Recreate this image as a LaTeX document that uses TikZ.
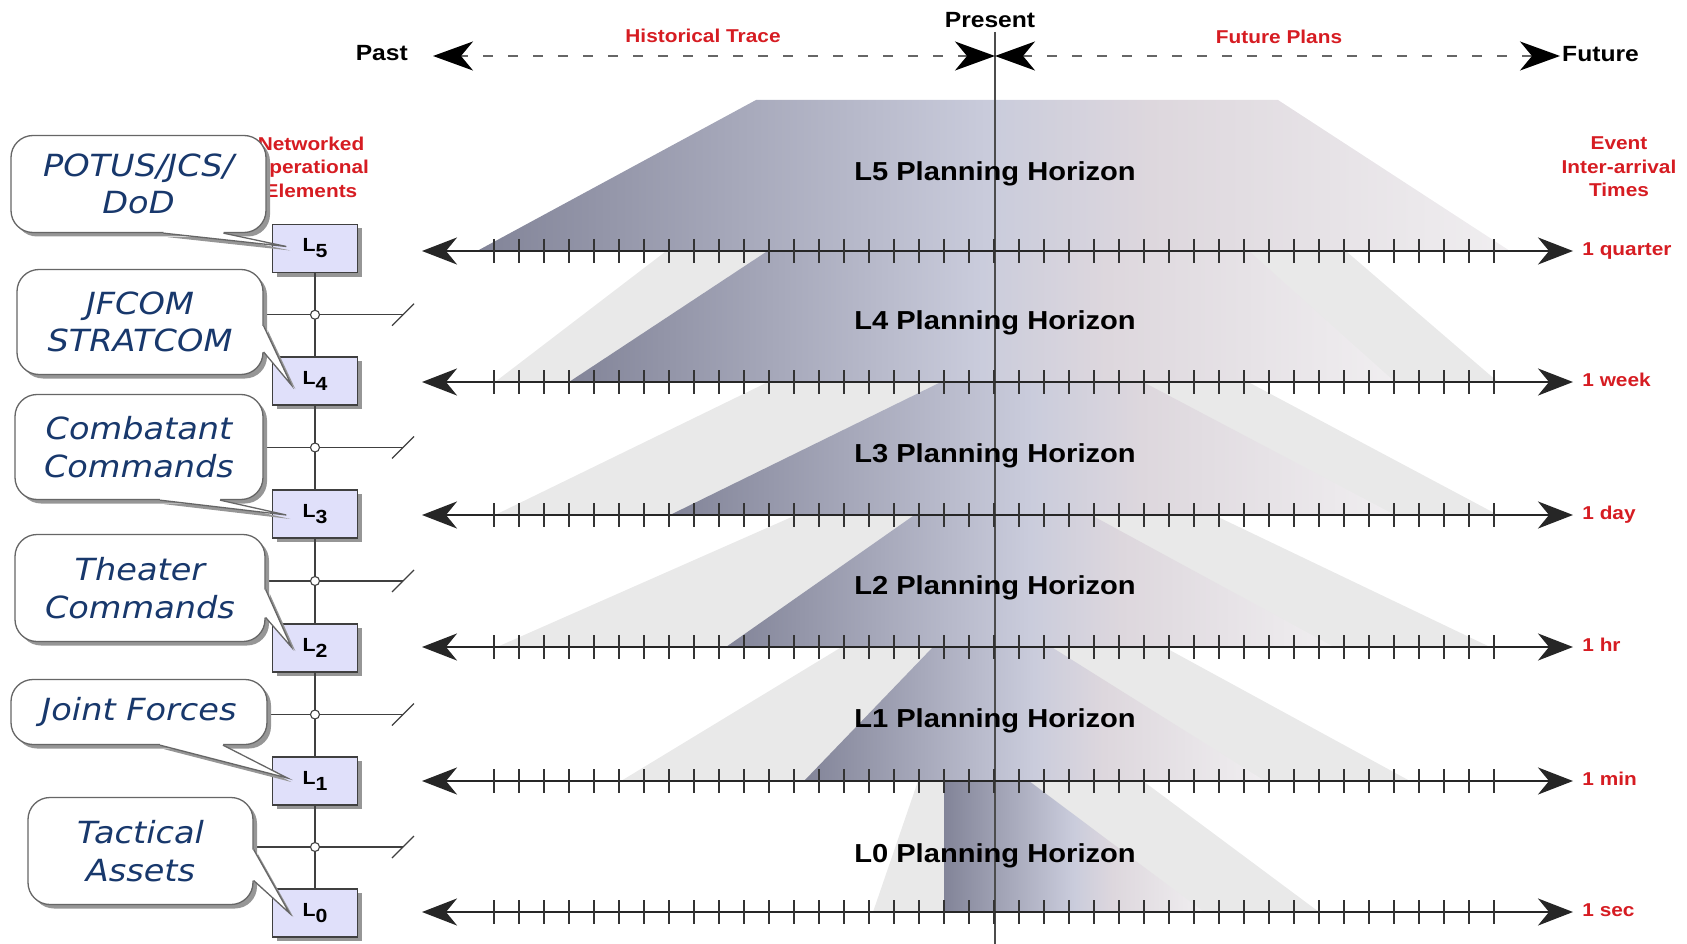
\documentclass[tikz,border=0pt]{standalone}
\usepackage{fontspec}
\setmainfont{Liberation Sans}
\newfontfamily\widesans{Liberation Sans}[FakeStretch=1.12]
\newfontfamily\callfont{DejaVu Sans}[FakeStretch=1.1]
\usetikzlibrary{arrows.meta,positioning,calc,shadows}

\definecolor{labelred}{RGB}{214,28,34}
\definecolor{calltext}{RGB}{24,56,108}
\definecolor{boxfill}{RGB}{224,224,250}
\definecolor{backgray}{RGB}{233,233,233}
\definecolor{shadowgray}{RGB}{150,150,150}
\definecolor{hzdark}{RGB}{130,132,152}
\definecolor{hzmid}{RGB}{202,204,220}
\definecolor{hzpink}{RGB}{221,215,221}
\definecolor{hzlight}{RGB}{240,238,240}

\pgfdeclarehorizontalshading{horizonshade}{100bp}{color(0bp)=(hzdark); color(25bp)=(hzdark); color(50bp)=(hzmid); color(57.5bp)=(hzpink); color(75bp)=(hzlight); color(100bp)=(hzlight)}

% pointer of a speech bubble: anchor, base offsets, box anchor, tip offset, inward shift
\newcommand{\callpointer}[6]{%
  \coordinate (pa) at ($(#1)+(#2)$);
  \coordinate (pb) at ($(#1)+(#3)$);
  \coordinate (pt) at ($(#4)+(#5)$);
  \fill[shadowgray] ($(pa)+(4,4)$) -- ($(pt)+(4,4)$) -- ($(pb)+(4,4)$) -- cycle;
  \fill[white] (pa) -- (pt) -- (pb) -- ($(pb)+(#6)$) -- ($(pa)+(#6)$) -- cycle;
  \draw[callline] (pa) -- (pt) -- (pb);
}

\begin{document}
\begin{tikzpicture}[
    x=1pt, y=-1pt,
    lightband/.style = {fill=backgray},
    timeaxis/.style = {draw=black!85, line width=2.8pt,
      {Stealth[length=35pt,width=27pt,inset=11pt]}-{Stealth[length=35pt,width=27pt,inset=11pt]}},
    axistick/.style = {draw=black!80, line width=1.7pt},
    timeline/.style = {draw=black!60, line width=1.5pt, dash pattern=on 10pt off 15pt,
      {Stealth[length=40pt,width=29pt,inset=12pt,color=black]}-{Stealth[length=40pt,width=29pt,inset=12pt,color=black]}},
    nowline/.style = {draw=black!70, line width=1.4pt},
    hztext/.style = {font=\widesans\bfseries\fontsize{26}{30}\selectfont, inner sep=0pt},
    toptext/.style = {font=\widesans\bfseries\fontsize{22}{26}\selectfont, inner sep=0pt},
    redtext/.style = {text=labelred, font=\widesans\bfseries\fontsize{18.6}{23.5}\selectfont, inner sep=0pt, align=center},
    lbox/.style = {draw=black!75, line width=1.3pt, fill=boxfill, minimum width=85pt, minimum height=48pt,
      inner sep=0pt, font=\widesans\bfseries\fontsize{19}{20}\selectfont,
      drop shadow={shadow xshift=4pt, shadow yshift=-4pt, fill=shadowgray, opacity=1}},
    bus/.style = {draw=black!75, line width=1.3pt},
    junction/.style = {circle, draw=black!75, fill=white, line width=1.1pt, minimum size=9pt, inner sep=0pt},
    bubble/.style = {draw=black!60, line width=1.3pt, fill=white, rounded corners=22pt, align=center,
      inner sep=0pt, text=calltext, font=\callfont\itshape\fontsize{30.5}{37.5}\selectfont,
      drop shadow={shadow xshift=4pt, shadow yshift=-4pt, fill=shadowgray, opacity=1}},
    callline/.style = {draw=black!60, line width=1.3pt}
  ]
  \useasboundingbox (0,0) rectangle (1687,944);

  % planning horizons
  \shade[shading=horizonshade] (477,251) -- (756,100) -- (1278,100) -- (1510,251) -- cycle;
  \fill[lightband] (495,382) -- (665,252) -- (1347,252) -- (1498,382) -- cycle;
  \shade[shading=horizonshade] (569,382) -- (766,252) -- (1250,252) -- (1395,382) -- cycle;
  \fill[lightband] (495,515) -- (766,383) -- (1250,383) -- (1498,515) -- cycle;
  \shade[shading=horizonshade] (670,515) -- (939,383) -- (1145,383) -- (1395,515) -- cycle;
  \fill[lightband] (497,647) -- (794,516) -- (1216,516) -- (1490,647) -- cycle;
  \shade[shading=horizonshade] (726,647) -- (913,516) -- (1093,516) -- (1334,647) -- cycle;
  \fill[lightband] (621,781) -- (840,648) -- (1166,648) -- (1410,781) -- cycle;
  \shade[shading=horizonshade] (804,781) -- (932,648) -- (1053,648) -- (1265,781) -- cycle;
  \fill[lightband] (873,912) -- (918,781) -- (1143,781) -- (1319,912) -- cycle;
  \shade[shading=horizonshade] (944,912) -- (944,781) -- (1029,781) -- (1204,912) -- cycle;

  \draw[nowline] (995,32) -- (995,944);

  \foreach \lvl/\yb in {5/181,4/329,3/462,2/594,1/727,0/862}
    \node[hztext, anchor=base] (hz\lvl) at (995,\yb) {L\lvl\ Planning Horizon};

  % time axes
  \foreach \y/\rate in {251/1 quarter,382/1 week,515/1 day,647/1 hr,781/1 min,912/1 sec} {
    \draw[timeaxis] (422,\y) -- (1573,\y)
      node[redtext, anchor=base west, xshift=8pt, yshift=-4pt] {\rate};
    \foreach \k in {0,...,40}
      \draw[axistick] ({494+25*\k},\y-12) -- ({494+25*\k},\y+12);
  }

  % past / present / future
  \coordinate (past) at (433,56);
  \coordinate (now) at (995,56);
  \coordinate (fut) at (1560,56);
  \draw[timeline] (now) -- (past);
  \draw[timeline] (now) -- (fut);
  \node[toptext, anchor=base east] (pastlbl) at (408,61) {Past};
  \node[toptext, anchor=base] (presentlbl) at (990,28) {Present};
  \node[toptext, anchor=base west] (futlbl) at (1562,62) {Future};
  \node[redtext, anchor=base] (trace) at (703,43) {Historical Trace};
  \node[redtext, anchor=base] (plans) at (1279,44) {Future Plans};
  \node[redtext] (netlbl) at (311,167) {Networked\\Operational\\Elements};
  \node[redtext] (eventlbl) at (1619,167) {Event\\Inter-arrival\\Times};

  % networked elements
  \foreach \lvl/\y in {5/248.5,4/381,3/514,2/648,1/781,0/913}
    \node[lbox] (L\lvl) at (315,\y) {L\raisebox{-6pt}{\lvl}};
  \foreach \up/\dn in {5/4,4/3,3/2,2/1,1/0} {
    \draw[bus] (L\up.south) -- coordinate (j\dn) (L\dn.north);
    \draw[bus] ([xshift=-70pt]j\dn) -- ([xshift=88pt]j\dn) coordinate (cut\dn);
    \draw[bus] ([shift={(-11,11)}]cut\dn) -- ([shift={(11,-11)}]cut\dn);
    \node[junction] at (j\dn) {};
  }

  % speech bubbles
  \node[bubble, minimum width=255pt, minimum height=97pt] (potus) at (138.5,184) {POTUS/JCS/\\DoD};
  \callpointer{potus.south}{25,0}{85,0}{L5.west}{14.5,-2}{0,-2.5}
  \node[bubble, minimum width=246pt, minimum height=105pt] (jfcom) at (140,322) {JFCOM\\STRATCOM};
  \callpointer{jfcom.east}{0,4}{0,30}{L4.west}{19.5,4}{-2.5,0}
  \node[bubble, minimum width=248pt, minimum height=105pt] (combat) at (139,447) {Combatant\\Commands};
  \callpointer{combat.south}{21,0}{81,0}{L3.west}{14.5,1}{0,-2.5}
  \node[bubble, minimum width=250pt, minimum height=107pt] (theater) at (140,588) {Theater\\Commands};
  \callpointer{theater.east}{0,1.5}{0,29.5}{L2.west}{19.5,-1}{-2.5,0}
  \node[bubble, minimum width=256pt, minimum height=65pt] (joint) at (139,712) {Joint Forces};
  \callpointer{joint.south}{21,0}{84,0}{L1.west}{15.5,-3}{0,-2.5}
  \node[bubble, minimum width=225pt, minimum height=107pt] (tactical) at (140.5,851) {Tactical\\Assets};
  \callpointer{tactical.east}{0,-1.5}{0,29.5}{L0.west}{17.5,0}{-2.5,0}
\end{tikzpicture}
\end{document}
